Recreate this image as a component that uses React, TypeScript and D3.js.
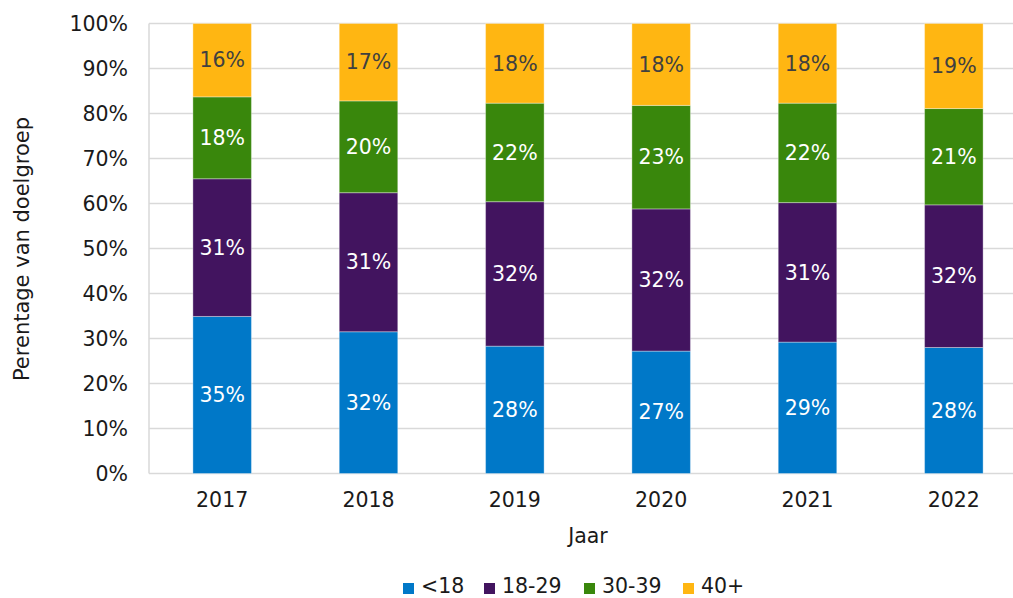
import React from "react";
import * as d3 from "d3";

const years = ["2017", "2018", "2019", "2020", "2021", "2022"];
const seriesNames = ["<18", "18-29", "30-39", "40+"];
const under18 = [34.9, 31.5, 28.3, 27.2, 29.2, 28.0];
const age18to29 = [30.6, 30.9, 32.1, 31.6, 31.0, 31.7];
const age30to39 = [18.2, 20.4, 21.9, 23.0, 22.1, 21.4];
const age40plus = [16.3, 17.2, 17.7, 18.2, 17.7, 18.9];
const yTicks = [0, 10, 20, 30, 40, 50, 60, 70, 80, 90, 100];
const colors = ["#0078C8", "#42145F", "#39870C", "#FFB612"];
const labelColors = ["#ffffff", "#ffffff", "#ffffff", "#404040"];

const W = 1013;
const H = 598;
const FONT = "'DejaVu Sans', Verdana, sans-serif";
const FS = 20.5;

export default function App() {
  const rows = years.map((y, i) => ({
    year: y,
    "<18": under18[i],
    "18-29": age18to29[i],
    "30-39": age30to39[i],
    "40+": age40plus[i],
  }));
  const stack = d3.stack<any>().keys(seriesNames)(rows);

  const x = d3.scaleBand().domain(years).range([149, 1027]).paddingInner(0.6).paddingOuter(0.3);
  const y = d3.scaleLinear().domain([0, 100]).range([473.5, 23.5]);
  const xMid = (149 + 1027) / 2;

  const legendX = [403, 484, 584, 683];

  return (
    <svg
      width={W}
      height={H}
      style={{ position: "fixed", top: 0, left: 0, background: "#fff" }}
      fontFamily={FONT}
    >
      <rect x={0} y={0} width={W} height={H} fill="#fff" />
      {yTicks.map((t) => (
        <g key={t}>
          <line x1={149} x2={1027} y1={y(t)} y2={y(t)} stroke="#d9d9d9" strokeWidth={1.5} />
          <text x={128} y={y(t)} dy="0.35em" textAnchor="end" fontSize={FS} fill="#1a1a1a">
            {t}%
          </text>
        </g>
      ))}
      <line x1={149} x2={149} y1={y(100)} y2={y(0)} stroke="#d9d9d9" strokeWidth={1.5} />
      {stack.map((s, si) =>
        s.map((d, i) => {
          const x0 = x(years[i])!;
          const top = y(d[1]);
          const bot = y(d[0]);
          const val = d[1] - d[0];
          return (
            <g key={`${si}-${i}`}>
              <rect
                x={x0}
                y={top}
                width={x.bandwidth()}
                height={bot - top}
                fill={colors[si]}
                stroke="#ffffff"
                strokeOpacity={0.35}
                strokeWidth={1}
              />
              <text
                x={x0 + x.bandwidth() / 2}
                y={(top + bot) / 2}
                dy="0.35em"
                textAnchor="middle"
                fontSize={FS}
                fill={labelColors[si]}
              >
                {Math.round(val)}%
              </text>
            </g>
          );
        })
      )}
      {years.map((yr) => (
        <text
          key={yr}
          x={x(yr)! + x.bandwidth() / 2}
          y={500}
          dy="0.35em"
          textAnchor="middle"
          fontSize={FS}
          fill="#1a1a1a"
        >
          {yr}
        </text>
      ))}
      <text x={xMid} y={536} dy="0.35em" textAnchor="middle" fontSize={FS} fill="#1a1a1a">
        Jaar
      </text>
      <text
        transform={`translate(22,249) rotate(-90)`}
        dy="0.35em"
        textAnchor="middle"
        fontSize={21}
        fill="#1a1a1a"
      >
        Perentage van doelgroep
      </text>
      {seriesNames.map((n, i) => (
        <g key={n}>
          <rect x={legendX[i]} y={583} width={11} height={11} fill={colors[i]} />
          <text x={legendX[i] + 18} y={593} fontSize={FS} fill="#1a1a1a">
            {n}
          </text>
        </g>
      ))}
    </svg>
  );
}
